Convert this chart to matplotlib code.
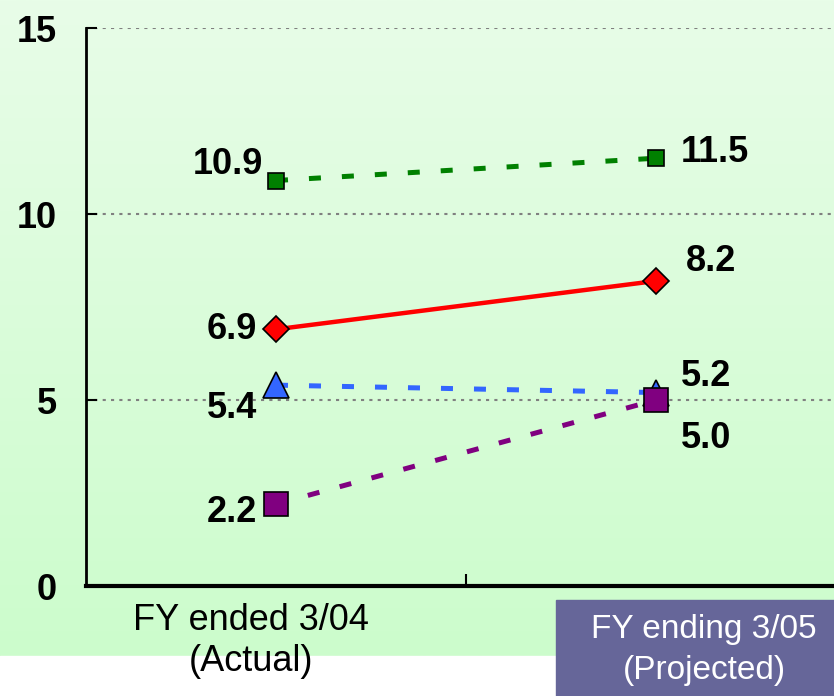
import matplotlib
matplotlib.use("Agg")
import matplotlib.pyplot as plt
import numpy as np
from matplotlib.patches import Rectangle
from matplotlib.colors import LinearSegmentedColormap

categories = ["FY ended 3/04\n(Actual)", "FY ending 3/05\n(Projected)"]
green_vals = [10.9, 11.5]
red_vals = [6.9, 8.2]
blue_vals = [5.4, 5.2]
purple_vals = [2.2, 5.0]
yticks = [0, 5, 10, 15]

W, H = 834, 696
fig = plt.figure(figsize=(W / 100, H / 100), dpi=100)
plt.rcParams['font.family'] = ['Liberation Sans', 'DejaVu Sans']

# background gradient
bg = fig.add_axes([0, 0, 1, 1], zorder=-10)
bg.set_axis_off()
cmap = LinearSegmentedColormap.from_list("g", ["#e8fde8", "#ccfccc"])
grad = np.linspace(0, 1, 256).reshape(-1, 1)
green_bottom = 1 - 656 / H
bg.imshow(grad, aspect='auto', cmap=cmap, extent=[0, 1, green_bottom, 1], origin='upper')
bg.add_patch(Rectangle((0, 0), 1, green_bottom, color='white', transform=bg.transAxes))
bg.add_patch(Rectangle((556 / W, 0), 1, 1 - 600 / H, color='#666699', transform=bg.transAxes, zorder=5))
bg.set_xlim(0, 1)
bg.set_ylim(0, 1)

left, right = 86, 846
top, bottom = 28, 586
ax = fig.add_axes([left / W, 1 - bottom / H, (right - left) / W, (bottom - top) / H])
ax.patch.set_alpha(0)

x = np.arange(len(categories))
ax.set_xlim(-0.5, 1.5)
ax.set_ylim(0, 15)

for v in [5, 10, 15]:
    ax.axhline(v, color='#808080', linestyle=(0, (1.5, 2.5)), linewidth=1.5, zorder=1)

ax.plot(x, green_vals, color='#008000', linewidth=3.6, dashes=(2.4, 4.2),
        marker='s', markersize=11.5, markerfacecolor='#008000', markeredgecolor='black',
        markeredgewidth=1.2, zorder=3)
ax.plot(x, red_vals, color='#ff0000', linewidth=3.2, linestyle='-',
        marker='D', markersize=13, markerfacecolor='#ff0000', markeredgecolor='black',
        markeredgewidth=1.2, zorder=3)
ax.plot(x, blue_vals, color='#3366ff', linewidth=3.6, dashes=(2.4, 4.2),
        marker='^', markersize=18.5, markerfacecolor='#3366ff', markeredgecolor='black',
        markeredgewidth=1.2, zorder=3)
ax.plot(x, purple_vals, color='#800080', linewidth=3.6, dashes=(2.4, 4.2),
        marker='s', markersize=17, markerfacecolor='#800080', markeredgecolor='black',
        markeredgewidth=1.2, zorder=4)

fs = 26
def lab(xi, yv, dx, dy, ha):
    ax.annotate(f"{yv:.1f}", (xi, yv), xytext=(dx, dy), textcoords='offset pixels',
                ha=ha, va='center', fontsize=fs, fontweight='bold', zorder=6)

lab(0, green_vals[0], -13, 16, 'right')
lab(1, green_vals[1], 25, 6, 'left')
lab(0, red_vals[0], -19, 0, 'right')
lab(1, red_vals[1], 30, 19, 'left')
lab(0, blue_vals[0], -19, -23, 'right')
lab(1, blue_vals[1], 25, 16, 'left')
lab(1, purple_vals[1], 25, -39, 'left')
lab(0, purple_vals[0], -19, -8, 'right')

for s in ['top', 'right']:
    ax.spines[s].set_visible(False)
ax.spines['left'].set_linewidth(2)
ax.spines['bottom'].set_linewidth(3)

ax.set_yticks(yticks)
ax.set_yticklabels([str(t) for t in yticks], fontsize=fs, fontweight='bold')
ax.tick_params(axis='y', direction='in', length=8, width=1.5, pad=21)
ax.set_xticks([0.5])
ax.set_xticklabels([''])
ax.tick_params(axis='x', direction='in', length=9, width=1.5)

fig.text(251 / W, 1 - 641 / H, categories[0], ha='center', va='center',
         fontsize=26, color='black', linespacing=1.2)
fig.text(704 / W, 1 - 650 / H, categories[1], ha='center', va='center',
         fontsize=24, color='white', linespacing=1.4, zorder=10)

fig.savefig("out.png", dpi=100)
